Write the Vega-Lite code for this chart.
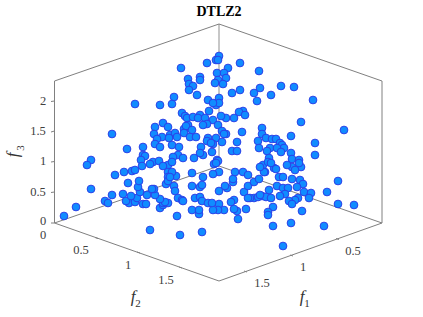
{"$schema":"https://vega.github.io/schema/vega-lite/v6.json","width":423,"height":317,"padding":0,"autosize":{"type":"fit","contains":"padding"},"background":"white","config":{"view":{"stroke":null}},
"datasets":{
"pts":[{"u":181,"v":68},{"u":207,"v":63},{"u":219,"v":56},{"u":216,"v":60},{"u":218,"v":60},{"u":240,"v":63},{"u":259,"v":71},{"u":228,"v":68},{"u":217,"v":73},{"u":224,"v":73},{"u":226,"v":78},{"u":218,"v":80},{"u":215,"v":83},{"u":223,"v":84},{"u":200,"v":77},{"u":200,"v":80},{"u":188,"v":79},{"u":189,"v":84},{"u":193,"v":86},{"u":189,"v":90},{"u":197,"v":95},{"u":174,"v":97},{"u":172,"v":104},{"u":160,"v":105},{"u":135,"v":104},{"u":208,"v":100},{"u":219,"v":98},{"u":216,"v":105},{"u":219,"v":103},{"u":213,"v":103},{"u":209,"v":111},{"u":232,"v":93},{"u":240,"v":90},{"u":254,"v":93},{"u":260,"v":88},{"u":257,"v":101},{"u":281,"v":86},{"u":294,"v":87},{"u":271,"v":95},{"u":313,"v":100},{"u":243,"v":111},{"u":239,"v":112},{"u":245,"v":115},{"u":234,"v":118},{"u":226,"v":118},{"u":221,"v":116},{"u":213,"v":120},{"u":301,"v":122},{"u":344,"v":130},{"u":182,"v":113},{"u":185,"v":116},{"u":187,"v":118},{"u":193,"v":117},{"u":200,"v":115},{"u":198,"v":118},{"u":205,"v":118},{"u":207,"v":124},{"u":203,"v":125},{"u":163,"v":123},{"u":155,"v":127},{"u":168,"v":127},{"u":188,"v":125},{"u":184,"v":129},{"u":186,"v":126},{"u":192,"v":130},{"u":184,"v":133},{"u":190,"v":137},{"u":196,"v":137},{"u":218,"v":125},{"u":222,"v":131},{"u":226,"v":134},{"u":224,"v":134},{"u":242,"v":132},{"u":154,"v":134},{"u":112,"v":134},{"u":162,"v":137},{"u":157,"v":139},{"u":170,"v":135},{"u":175,"v":133},{"u":169,"v":138},{"u":177,"v":137},{"u":155,"v":144},{"u":160,"v":147},{"u":172,"v":145},{"u":179,"v":147},{"u":143,"v":147},{"u":127,"v":149},{"u":208,"v":138},{"u":207,"v":141},{"u":216,"v":138},{"u":222,"v":142},{"u":237,"v":142},{"u":213,"v":144},{"u":211,"v":143},{"u":232,"v":151},{"u":237,"v":151},{"u":212,"v":152},{"u":201,"v":147},{"u":203,"v":155},{"u":200,"v":153},{"u":262,"v":128},{"u":262,"v":134},{"u":258,"v":141},{"u":266,"v":138},{"u":272,"v":139},{"u":276,"v":139},{"u":291,"v":136},{"u":315,"v":143},{"u":315,"v":155},{"u":280,"v":143},{"u":282,"v":145},{"u":284,"v":148},{"u":259,"v":148},{"u":270,"v":148},{"u":277,"v":148},{"u":267,"v":151},{"u":281,"v":152},{"u":291,"v":153},{"u":269,"v":158},{"u":292,"v":159},{"u":299,"v":160},{"u":143,"v":155},{"u":145,"v":156},{"u":141,"v":160},{"u":91,"v":160},{"u":87,"v":165},{"u":153,"v":162},{"u":159,"v":161},{"u":150,"v":164},{"u":142,"v":166},{"u":178,"v":155},{"u":173,"v":157},{"u":183,"v":158},{"u":194,"v":158},{"u":168,"v":165},{"u":217,"v":160},{"u":218,"v":161},{"u":214,"v":164},{"u":292,"v":167},{"u":301,"v":167},{"u":274,"v":168},{"u":265,"v":172},{"u":263,"v":165},{"u":268,"v":162},{"u":295,"v":170},{"u":279,"v":177},{"u":283,"v":177},{"u":292,"v":179},{"u":300,"v":180},{"u":303,"v":184},{"u":297,"v":187},{"u":277,"v":186},{"u":283,"v":188},{"u":288,"v":188},{"u":269,"v":190},{"u":304,"v":192},{"u":311,"v":193},{"u":309,"v":198},{"u":327,"v":192},{"u":338,"v":181},{"u":285,"v":194},{"u":280,"v":196},{"u":298,"v":198},{"u":295,"v":200},{"u":289,"v":201},{"u":292,"v":204},{"u":262,"v":196},{"u":266,"v":197},{"u":271,"v":198},{"u":338,"v":204},{"u":354,"v":205},{"u":273,"v":207},{"u":268,"v":212},{"u":268,"v":215},{"u":302,"v":211},{"u":324,"v":226},{"u":291,"v":223},{"u":273,"v":226},{"u":283,"v":246},{"u":238,"v":219},{"u":246,"v":209},{"u":237,"v":211},{"u":234,"v":209},{"u":224,"v":210},{"u":219,"v":204},{"u":218,"v":210},{"u":213,"v":210},{"u":234,"v":200},{"u":231,"v":202},{"u":219,"v":191},{"u":227,"v":188},{"u":225,"v":186},{"u":244,"v":192},{"u":248,"v":186},{"u":254,"v":182},{"u":259,"v":179},{"u":233,"v":182},{"u":233,"v":179},{"u":235,"v":172},{"u":243,"v":172},{"u":248,"v":175},{"u":219,"v":172},{"u":213,"v":174},{"u":264,"v":172},{"u":254,"v":198},{"u":250,"v":198},{"u":248,"v":198},{"u":258,"v":197},{"u":260,"v":195},{"u":64,"v":216},{"u":76,"v":207},{"u":91,"v":189},{"u":105,"v":201},{"u":108,"v":203},{"u":112,"v":195},{"u":115,"v":175},{"u":124,"v":172},{"u":132,"v":171},{"u":135,"v":170},{"u":150,"v":230},{"u":180,"v":235},{"u":202,"v":232},{"u":177,"v":216},{"u":199,"v":214},{"u":192,"v":210},{"u":199,"v":210},{"u":160,"v":208},{"u":163,"v":205},{"u":168,"v":203},{"u":163,"v":203},{"u":165,"v":202},{"u":160,"v":199},{"u":143,"v":204},{"u":146,"v":204},{"u":129,"v":203},{"u":126,"v":201},{"u":135,"v":202},{"u":137,"v":198},{"u":123,"v":194},{"u":131,"v":196},{"u":140,"v":192},{"u":147,"v":195},{"u":155,"v":195},{"u":154,"v":189},{"u":152,"v":189},{"u":138,"v":187},{"u":128,"v":183},{"u":139,"v":181},{"u":166,"v":184},{"u":174,"v":186},{"u":175,"v":191},{"u":178,"v":198},{"u":182,"v":200},{"u":183,"v":201},{"u":195,"v":198},{"u":200,"v":197},{"u":202,"v":201},{"u":208,"v":203},{"u":192,"v":186},{"u":200,"v":187},{"u":202,"v":185},{"u":192,"v":173},{"u":203,"v":177},{"u":176,"v":176},{"u":168,"v":172},{"u":172,"v":172},{"u":168,"v":177},{"u":168,"v":181},{"u":212,"v":203},{"u":170,"v":177},{"u":163,"v":166},{"u":172,"v":162},{"u":271,"v":163},{"u":276,"v":169},{"u":287,"v":165},{"u":299,"v":163},{"u":260,"v":167},{"u":216,"v":163}],
"box":[{"s":"top","u":54.5,"v":223},{"s":"top","u":54.5,"v":81},{"s":"top","u":219,"v":24},{"s":"top","u":382,"v":81},{"s":"top","u":382,"v":223},{"s":"floor","u":54.5,"v":223},{"s":"floor","u":219,"v":166},{"s":"floor","u":382,"v":223},{"s":"front","u":54.5,"v":223},{"s":"front","u":219,"v":281},{"s":"front","u":382,"v":223},
{"s":"z0","u":51,"v":223},{"s":"z0","u":54.5,"v":223},{"s":"z1","u":51,"v":192.5},{"s":"z1","u":54.5,"v":192},{"s":"z2","u":51,"v":162},{"s":"z2","u":54.5,"v":161.5},{"s":"z3","u":51,"v":132},{"s":"z3","u":54.5,"v":131},{"s":"z4","u":51,"v":101.5},{"s":"z4","u":54.5,"v":101},
{"s":"a1","u":95,"v":237.5},{"s":"a1","u":98,"v":238.5},{"s":"a2","u":137,"v":252},{"s":"a2","u":140,"v":253},{"s":"a3","u":179,"v":267},{"s":"a3","u":182,"v":268},
{"s":"b1","u":336,"v":238.5},{"s":"b1","u":339,"v":239.5},{"s":"b2","u":290,"v":255},{"s":"b2","u":293,"v":256},{"s":"b3","u":244,"v":271},{"s":"b3","u":247,"v":272}],
"back":[{"u":219,"v":24},{"u":219,"v":166}],
"ticks":[{"t":"2","u":43,"v":101},{"t":"1.5","u":38,"v":131},{"t":"1","u":43,"v":161},{"t":"0.5","u":38,"v":192},{"t":"0","u":43,"v":221},{"t":"0","u":43,"v":235},{"t":"0.5","u":81,"v":250},{"t":"1","u":128,"v":265},{"t":"1.5","u":166,"v":280},{"t":"0.5","u":353,"v":251},{"t":"1","u":303,"v":267},{"t":"1.5","u":262,"v":283}]
},
"encoding":{"x":{"field":"u","type":"quantitative","axis":null,"scale":{"domain":[0,423],"nice":false,"zero":false}},"y":{"field":"v","type":"quantitative","axis":null,"scale":{"domain":[317,0],"nice":false,"zero":false}}},
"layer":[
{"data":{"name":"back"},"mark":{"type":"line","color":"#b4b4b4","strokeWidth":1.5}},
{"data":{"name":"box"},"mark":{"type":"line","color":"#808080","strokeWidth":1},"encoding":{"detail":{"field":"s"},"order":{"value":0}}},
{"data":{"name":"pts"},"mark":{"type":"circle","size":60,"opacity":1,"fill":"#108cff","stroke":"#2b3fe8","strokeWidth":1}},
{"data":{"name":"ticks"},"mark":{"type":"text","font":"Liberation Serif","fontSize":12.5,"color":"#404040","align":"center","baseline":"middle"},"encoding":{"text":{"field":"t"}}},
{"data":{"values":[{"t":"DTLZ2","u":219,"v":12}]},"mark":{"type":"text","font":"Liberation Serif","fontSize":14,"fontWeight":"bold","color":"#000000","align":"center","baseline":"middle"},"encoding":{"text":{"field":"t"}}},
{"data":{"values":[{"t":"f","u":133,"v":297},{"t":"f","u":302,"v":297}]},"mark":{"type":"text","font":"Liberation Serif","fontSize":17,"fontStyle":"italic","color":"#333333","align":"center","baseline":"middle"},"encoding":{"text":{"field":"t"}}},
{"data":{"values":[{"t":"2","u":138,"v":304},{"t":"1","u":307,"v":304}]},"mark":{"type":"text","font":"Liberation Serif","fontSize":11,"color":"#333333","align":"center","baseline":"middle"},"encoding":{"text":{"field":"t"}}},
{"data":{"values":[{"t":"f","u":13,"v":155}]},"mark":{"type":"text","font":"Liberation Serif","fontSize":17,"fontStyle":"italic","angle":270,"color":"#333333","align":"center","baseline":"middle"},"encoding":{"text":{"field":"t"}}},
{"data":{"values":[{"t":"3","u":21,"v":148}]},"mark":{"type":"text","font":"Liberation Serif","fontSize":11,"angle":270,"color":"#333333","align":"center","baseline":"middle"},"encoding":{"text":{"field":"t"}}}
]}
